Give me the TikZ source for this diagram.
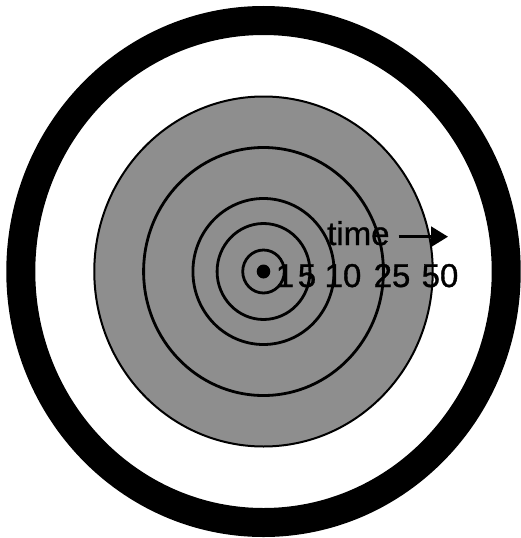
\documentclass[tikz,border=0pt]{standalone}
\usepackage{fontspec}
\setmainfont{Liberation Sans}
\newfontfamily\labelfont[FakeBold=1]{Liberation Sans}
\usetikzlibrary{arrows.meta, math}
\definecolor{discgray}{RGB}{142,142,142}

\begin{document}
\begin{tikzpicture}[x=0.967pt, y=-1pt,
  ringline/.style={line width=2.8pt},
  lbl/.style={inner sep=0pt, anchor=base, font=\labelfont\fontsize{33}{33}\selectfont}]
\tikzmath{
\R=251;
\D=175;
}
\useasboundingbox (0,0) rectangle (537.75,538);
\coordinate (c) at (272.5,271.5);
% outer black ring
\draw[line width=29pt] (c) circle[radius=\R];
% grey disc and the rings inside it
\draw[fill=discgray, line width=2pt] (c) circle[radius=\D];
\foreach \r in {21.5,48,73,124}
  \draw[ringline] (c) circle[radius=\r];
\fill (c) circle[radius=7];
% labels
\foreach \t/\x in {1/294.7, 5/317.5, 10/354.7, 25/405.4, 50/455}
  \node[lbl] (l\t) at (\x,287) {\t};
\node[lbl] (time) at (370.6,245) {time};
\coordinate (tip) at (463.3,236.7);
\draw[line width=3pt, -{Triangle[length=17pt,width=20pt]}] ([xshift=9pt]time.east |- tip) -- (tip);
\end{tikzpicture}
\end{document}
